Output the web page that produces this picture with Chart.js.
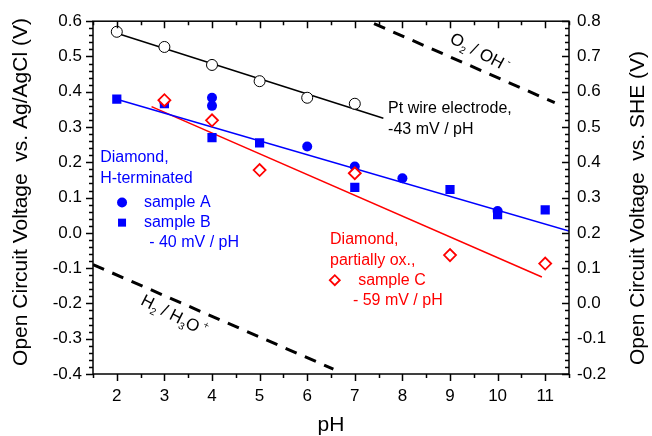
<!DOCTYPE html>
<html>
<head>
<meta charset="utf-8">
<script src="https://cdn.jsdelivr.net/npm/chart.js@4"></script>
<style>
  body { margin: 0; background: #fff; }
  canvas { display: block; }
</style>
</head>
<body>
<canvas id="ocpChart" width="652" height="436"></canvas>
<script>
// Pt wire electrode (open circles)
const ptPH = [2, 3, 4, 5, 6, 7];
const ptV = [0.570, 0.527, 0.476, 0.430, 0.383, 0.366];

// Diamond H-terminated, sample A (filled circles)
const sampleAPH = [3, 4, 4, 6, 7, 8, 10];
const sampleAV = [0.371, 0.383, 0.360, 0.245, 0.188, 0.155, 0.062];

// Diamond H-terminated, sample B (filled squares)
const sampleBPH = [2, 3, 4, 5, 7, 9, 10, 11];
const sampleBV = [0.379, 0.366, 0.270, 0.255, 0.129, 0.123, 0.052, 0.065];

// Diamond partially oxidised, sample C (open diamonds)
const sampleCPH = [3, 4, 5, 7, 9, 11];
const sampleCV = [0.376, 0.319, 0.178, 0.169, -0.063, -0.087];

// Fit lines (end points)
const ptFitPH = [2, 7.6];
const ptFitV = [0.566, 0.325];
const blueFitPH = [2, 11.5];
const blueFitV = [0.379, 0.005];
const redFitPH = [2.73, 10.93];
const redFitV = [0.358, -0.125];

// Water stability lines (dashed)
const o2PH = [7.0, 11.2];
const o2V = [0.617, 0.369];
const h2PH = [1.5, 6.55];
const h2V = [-0.090, -0.386];

// Axis ticks
const xTicks = [2, 3, 4, 5, 6, 7, 8, 9, 10, 11];
const yTicks = [-0.4, -0.3, -0.2, -0.1, 0.0, 0.1, 0.2, 0.3, 0.4, 0.5, 0.6];
const y2Ticks = [-0.2, -0.1, 0.0, 0.1, 0.2, 0.3, 0.4, 0.5, 0.6, 0.7, 0.8];

const FONT = 'Arial, "Liberation Sans", Helvetica, sans-serif';
const BLUE = '#0000ff';
const RED = '#ff0000';

function pts(xs, ys) {
    return xs.map((x, i) => ({ x: x, y: ys[i] }));
}

function fmt(v) {
    if (Math.abs(v) < 1e-9) return '0.0';
    return v.toFixed(1);
}

// Tick marks, frame, axis titles and annotations
const decorPlugin = {
    id: 'decor',
    afterDraw(chart) {
        const ctx = chart.ctx;
        const a = chart.chartArea;
        const sx = chart.scales.x, sy = chart.scales.y, sy2 = chart.scales.y2;
        ctx.save();
        ctx.setLineDash([]);
        ctx.strokeStyle = '#000';
        ctx.lineWidth = 1.5;
        ctx.strokeRect(a.left, a.top, a.right - a.left, a.bottom - a.top);

        // x ticks, bottom outward and top inward
        for (let i = 0; i <= 20; i++) {
            const v = 1.5 + i * 0.5;
            const px = Math.round(sx.getPixelForValue(v)) + 0.5;
            const len = (i % 2 === 1) ? 7 : 4;
            ctx.beginPath();
            ctx.moveTo(px, a.bottom); ctx.lineTo(px, a.bottom + len);
            ctx.moveTo(px, a.top); ctx.lineTo(px, a.top + len);
            ctx.stroke();
        }
        // left y ticks outward
        for (let i = 0; i <= 50; i++) {
            const py = Math.round(sy.getPixelForValue(-0.4 + i * 0.02)) + 0.5;
            const len = (i % 5 === 0) ? 7 : 4;
            ctx.beginPath();
            ctx.moveTo(a.left - len, py); ctx.lineTo(a.left, py);
            ctx.stroke();
        }
        // right y ticks inward
        for (let i = 0; i <= 50; i++) {
            const py = Math.round(sy2.getPixelForValue(-0.2 + i * 0.02)) + 0.5;
            const len = (i % 5 === 0) ? 7 : 4;
            ctx.beginPath();
            ctx.moveTo(a.right - len, py); ctx.lineTo(a.right, py);
            ctx.stroke();
        }

        // axis titles
        ctx.fillStyle = '#000';
        ctx.font = '21px ' + FONT;
        ctx.textAlign = 'center';
        ctx.textBaseline = 'middle';
        ctx.fillText('pH', (a.left + a.right) / 2, 425);
        ctx.save();
        ctx.translate(21, 192);
        ctx.rotate(-Math.PI / 2);
        ctx.fillText('Open Circuit Voltage  vs. Ag/AgCl (V)', 0, 0);
        ctx.restore();
        ctx.save();
        ctx.translate(638, 208);
        ctx.rotate(-Math.PI / 2);
        ctx.fillText('Open Circuit Voltage  vs. SHE (V)', 0, 0);
        ctx.restore();

        // text annotations
        const X = v => sx.getPixelForValue(v);
        const Y = v => sy.getPixelForValue(v);
        ctx.font = '16px ' + FONT;
        ctx.textAlign = 'left';
        ctx.fillStyle = '#000';
        ctx.fillText('Pt wire electrode,', X(7.70), Y(0.351));
        ctx.fillText('-43 mV / pH', X(7.70), Y(0.292));

        ctx.fillStyle = BLUE;
        ctx.fillText('Diamond,', X(1.65), Y(0.213));
        ctx.fillText('H-terminated', X(1.65), Y(0.154));
        ctx.fillText('sample A', X(2.57), Y(0.086));
        ctx.fillText('sample B', X(2.57), Y(0.029));
        ctx.fillText('- 40 mV / pH', X(2.68), Y(-0.027));
        ctx.beginPath();
        ctx.arc(X(2.11), Y(0.086), 5, 0, Math.PI * 2);
        ctx.fill();
        ctx.fillRect(X(2.11) - 4, Y(0.029) - 4, 8, 8);

        ctx.fillStyle = RED;
        ctx.fillText('Diamond,', X(6.48), Y(-0.019));
        ctx.fillText('partially ox.,', X(6.48), Y(-0.078));
        ctx.fillText('sample C', X(7.07), Y(-0.134));
        ctx.fillText('- 59 mV / pH', X(6.96), Y(-0.191));
        ctx.strokeStyle = RED;
        ctx.lineWidth = 1.8;
        const dx = X(6.58), dy = Y(-0.134);
        ctx.beginPath();
        ctx.moveTo(dx - 5, dy); ctx.lineTo(dx, dy - 5);
        ctx.lineTo(dx + 5, dy); ctx.lineTo(dx, dy + 5);
        ctx.closePath();
        ctx.stroke();

        // rotated labels of the dashed lines
        ctx.fillStyle = '#000';
        drawChem(ctx, X(9.62), Y(0.51), 28, [['O', 0], ['2', 1], [' / OH', 0], [' -', -1]]);
        drawChem(ctx, X(3.2), Y(-0.236), 27, [['H', 0], ['2', 1], [' / H', 0], ['3', 1], ['O', 0], [' +', -1]]);
        ctx.restore();
    }
};

// text with subscripts (1) and superscripts (-1), centred and rotated
function drawChem(ctx, cx, cy, deg, parts) {
    const big = '17px ' + FONT, small = '10px ' + FONT;
    let w = 0;
    parts.forEach(p => { ctx.font = p[1] ? small : big; w += ctx.measureText(p[0]).width; });
    ctx.save();
    ctx.translate(cx, cy);
    ctx.rotate(deg * Math.PI / 180);
    ctx.textAlign = 'left';
    ctx.textBaseline = 'middle';
    let x = -w / 2;
    parts.forEach(p => {
        ctx.font = p[1] ? small : big;
        ctx.fillText(p[0], x, p[1] * 6);
        x += ctx.measureText(p[0]).width;
    });
    ctx.restore();
}

const ctx = document.getElementById('ocpChart').getContext('2d');
new Chart(ctx, {
    type: 'scatter',
    data: {
        datasets: [
            {
                data: pts(sampleCPH, sampleCV),
                pointStyle: 'rectRot', pointRadius: 6, pointBorderWidth: 1.8,
                borderColor: RED, backgroundColor: '#fff'
            },
            {
                data: pts(sampleAPH, sampleAV),
                pointStyle: 'circle', pointRadius: 5, pointBorderWidth: 0,
                borderColor: BLUE, backgroundColor: BLUE
            },
            {
                data: pts(sampleBPH, sampleBV),
                pointStyle: 'rect', pointRadius: 6.5, pointBorderWidth: 0,
                borderColor: BLUE, backgroundColor: BLUE
            },
            {
                data: pts(ptPH, ptV),
                pointStyle: 'circle', pointRadius: 5.5, pointBorderWidth: 1,
                borderColor: '#000', backgroundColor: '#fff'
            },
            {
                data: pts(ptFitPH, ptFitV), showLine: true, pointRadius: 0,
                borderColor: '#000', borderWidth: 1.5
            },
            {
                data: pts(blueFitPH, blueFitV), showLine: true, pointRadius: 0,
                borderColor: BLUE, borderWidth: 1.5
            },
            {
                data: pts(redFitPH, redFitV), showLine: true, pointRadius: 0,
                borderColor: RED, borderWidth: 1.5
            },
            {
                data: pts(o2PH, o2V), showLine: true, pointRadius: 0,
                borderColor: '#000', borderWidth: 3, borderDash: [12, 9]
            },
            {
                data: pts(h2PH, h2V), showLine: true, pointRadius: 0,
                borderColor: '#000', borderWidth: 3, borderDash: [12, 9]
            }
        ]
    },
    options: {
        responsive: false,
        animation: false,
        devicePixelRatio: 1,
        layout: { padding: { top: 20, left: 0, right: 0, bottom: 0 } },
        plugins: { legend: { display: false }, tooltip: { enabled: false } },
        scales: {
            x: {
                type: 'linear', min: 1.5, max: 11.5,
                grid: { display: false, drawTicks: false },
                border: { display: false },
                afterBuildTicks: s => { s.ticks = xTicks.map(v => ({ value: v })); },
                afterFit: s => { s.height = 62; },
                ticks: { color: '#000', padding: 12, font: { family: FONT, size: 17 } }
            },
            y: {
                type: 'linear', position: 'left', min: -0.4, max: 0.6,
                grid: { display: false, drawTicks: false },
                border: { display: false },
                afterBuildTicks: s => { s.ticks = yTicks.map(v => ({ value: v })); },
                afterFit: s => { s.width = 93; },
                ticks: { color: '#000', padding: 11, font: { family: FONT, size: 17 }, callback: v => fmt(v) }
            },
            y2: {
                type: 'linear', position: 'right', min: -0.2, max: 0.8,
                grid: { display: false, drawTicks: false },
                border: { display: false },
                afterBuildTicks: s => { s.ticks = y2Ticks.map(v => ({ value: v })); },
                afterFit: s => { s.width = 83; },
                ticks: { color: '#000', padding: 8, font: { family: FONT, size: 17 }, callback: v => fmt(v) }
            }
        }
    },
    plugins: [decorPlugin]
});
</script>
</body>
</html>
